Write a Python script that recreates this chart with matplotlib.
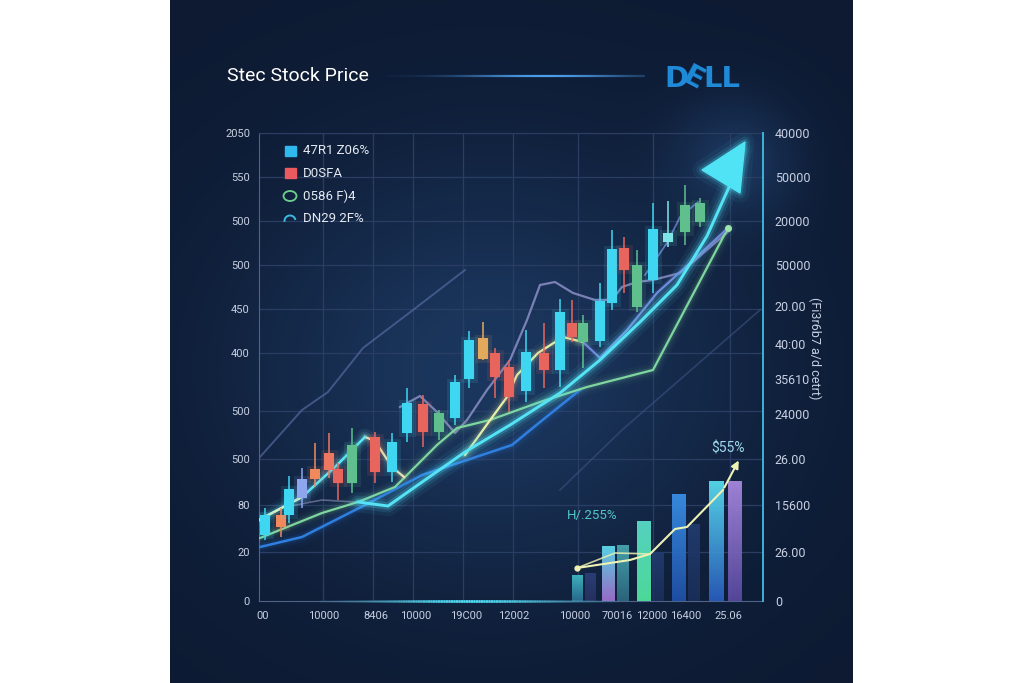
import numpy as np
import matplotlib.pyplot as plt
from matplotlib.patches import Rectangle, Ellipse, Arc, Polygon
from matplotlib.collections import LineCollection
from matplotlib.colors import LinearSegmentedColormap
import matplotlib.patheffects as pe

plt.rcParams['font.family'] = ['Roboto', 'DejaVu Sans']

# chart units: x = distance right of the left spine, y = height above the baseline
left_ticks = [0, 49, 96, 142, 190, 248, 292, 336, 380, 424, 468]
left_labels = ['0', '20', '80', '500', '500', '400', '450', '500', '500', '550', '2050']
right_ticks = [0, 49, 96, 142, 187, 222, 257, 295, 336, 380, 424, 468]
right_labels = ['0', '26.00', '15600', '26.00', '24000', '35610', '40:00', '20.00',
                '50000', '20000', '50000', '40000']
bottom_ticks = [4, 65, 117, 157, 207, 255, 316, 358, 393, 427, 469]
bottom_labels = ['00', '10000', '8406', '10000', '19C00', '12002', '10000', '70016',
                 '12000', '16400', '25.06']
vgrid = [64, 114, 154, 204, 254, 319, 394, 471]

# candles
c_x = [6, 22, 30, 43, 56, 70, 79, 93, 116, 133, 148, 164, 180, 196, 210, 224, 236, 250,
       267, 285, 301, 313, 324, 341, 353, 365, 378, 394, 409, 426, 441]
c_lo = [66, 74, 86, 103, 122, 131, 118, 118, 129, 129, 168, 169, 169, 183, 222, 242, 224,
        204, 210, 231, 231, 264, 259, 260, 298, 331, 294, 321, 359, 369, 379]
c_hi = [86, 86, 112, 122, 132, 148, 132, 156, 164, 159, 198, 197, 188, 219, 261, 263, 248,
        234, 249, 248, 289, 278, 278, 300, 352, 353, 336, 372, 368, 396, 398]
w_lo = [61, 64, 78, 93, 114, 123, 101, 108, 118, 119, 159, 154, 161, 176, 213, 241, 203,
        189, 199, 213, 214, 259, 233, 254, 291, 308, 289, 308, 354, 356, 374]
w_hi = [93, 93, 125, 133, 158, 168, 138, 173, 169, 168, 213, 206, 191, 226, 270, 279, 253,
        241, 271, 278, 302, 301, 286, 318, 371, 364, 351, 398, 400, 416, 403]
c_col = ['cyan', 'orange', 'cyan', 'lav', 'orange', 'coral', 'red', 'green', 'red', 'cyan',
         'cyan', 'red', 'green', 'cyan', 'cyan', 'gold', 'red', 'red', 'cyan', 'red', 'cyan',
         'red', 'green', 'cyan', 'cyan', 'red', 'green', 'cyan', 'pale', 'green', 'green']
palette = {'cyan': '#3fd6f2', 'orange': '#f08a5d', 'lav': '#8ea6ee', 'coral': '#ee7762',
           'red': '#e8655e', 'green': '#5fc08e', 'gold': '#e2a95c', 'pale': '#7fe6e8'}

# lines
main_x = [99, 129, 156, 206, 251, 301, 341, 381, 418, 448, 471, 483]
main_y = [99, 95, 114, 149, 176, 208, 241, 279, 316, 365, 416, 451]
arrow_xy = [[443, 431], [486, 459], [481, 408]]
lead_x = [0, 43, 76, 106]
lead_y = [81, 104, 134, 164]
yel1_x = [106, 116, 133, 145]
yel1_y = [164, 160, 134, 124]
yel2_x = [206, 229, 248, 258, 279, 304, 324]
yel2_y = [146, 178, 204, 226, 248, 264, 259]
bmid_x = [324, 341, 368, 398, 431, 469]
bmid_y = [259, 243, 271, 308, 338, 373]
grn_x = [1, 63, 99, 136, 178, 198, 231, 281, 328, 394, 469]
grn_y = [63, 88, 99, 114, 156, 173, 181, 199, 214, 231, 373]
blow_x = [1, 43, 106, 163, 253, 286, 321]
blow_y = [54, 64, 96, 126, 156, 183, 211]
lavu_x = [1, 43, 69, 104, 154, 206]
lavu_y = [144, 191, 209, 253, 291, 331]
lavm_x = [141, 161, 178, 196, 208, 228, 251, 268, 281, 296, 314, 336, 353, 363, 378, 394, 421, 471]
lavm_y = [194, 205, 189, 168, 181, 211, 241, 281, 316, 319, 308, 301, 301, 314, 319, 321, 328, 371]
lavt_x = [386, 408, 421, 439]
lavt_y = [326, 358, 384, 399]
gray_x = [26, 63, 96]
gray_y = [94, 101, 99]
faint_x = [301, 363, 501]
faint_y = [111, 171, 291]

# volume bars
b_x = [318.5, 331.5, 349.5, 364, 385, 399, 420, 435, 457.5, 476]
b_h = [26, 28, 55, 56, 80, 49, 107, 77, 120, 120]
b_w = [11, 11, 13, 12, 14, 12, 14, 12, 15, 14]
b_top = ['#41bcc6', '#2e3f7c', '#5fdff0', '#4aaab2', '#5ce2cc', '#223d70', '#3a92ea',
         '#223d70', '#5ae0f2', '#aa8ae2']
b_bot = ['#2a6f94', '#263262', '#a472d2', '#2e6a82', '#52eaa2', '#1b2f5a', '#2052aa',
         '#1b2f5a', '#2a5ec0', '#5a4aa2']
bl_x = [318, 371, 391, 416, 428, 464]
bl_y = [33, 41, 47, 72, 74, 111]
bl2_x = [318, 356, 391]
bl2_y = [33, 48, 47]

legend_txt = ['47R1 Z06%', 'D0SFA', '0586 F)4', 'DN29 2F%']

W, H = 1024, 683
fig = plt.figure(figsize=(W / 100, H / 100), dpi=100, facecolor='white')

# background panel
bg = fig.add_axes([0, 0, 1, 1], zorder=0)
bg.set_xlim(0, W)
bg.set_ylim(H, 0)
bg.axis('off')
yy, xx = np.mgrid[0:H, 170:853]
base = np.array([13, 26, 50]) / 255
glowc = np.array([30, 60, 102]) / 255
g1 = np.exp(-(((xx - 490) / 250) ** 2 + ((yy - 370) / 210) ** 2))
g2 = np.exp(-(((xx - 735) / 60) ** 2 + ((yy - 160) / 60) ** 2))
img = base + (glowc - base) * np.clip(0.85 * g1 + 0.7 * g2, 0, 1)[..., None]
bg.imshow(img, extent=(170, 853, H, 0), aspect='auto', interpolation='bilinear')

# title and rule
bg.text(227, 76, 'Stec Stock Price', color='white', fontsize=14, va='center', ha='left')
xs = np.linspace(385, 645, 140)
segs = [[(xs[i], 76), (xs[i + 1], 76)] for i in range(len(xs) - 1)]
t = np.linspace(0, 1, len(segs))
alph = np.exp(-((t - 0.62) / 0.33) ** 2)
bg.add_collection(LineCollection(segs, colors=[(0.3, 0.62, 0.92, a) for a in alph], linewidths=1.6))

# logo
dell = '#1f8ad8'
logo_font = dict(color=dell, fontsize=21, fontweight='bold', family=['DejaVu Sans'], va='center')
bg.text(664, 79, 'D', ha='left', **logo_font)
bg.text(693, 79, 'E', ha='center', rotation=-28, **logo_font)
bg.text(703, 79, 'LL', ha='left', **logo_font)

# main axes
ax = fig.add_axes([259 / W, (H - 601) / H, 504 / W, 468 / H], zorder=1)
ax.set_facecolor('none')

for yv in left_ticks[1:]:
    ax.axhline(yv, color='#2a3e64', lw=0.9, zorder=0)
for xv in vgrid:
    ax.axvline(xv, color='#2a3e64', lw=0.9, zorder=0)


def glow_line(x, y, color, lw=1.6, strength=1.0, z=3, alpha=1.0):
    for k, a in [(7, 0.04), (4.5, 0.07), (2.6, 0.14)]:
        ax.plot(x, y, color=color, lw=lw * k, alpha=a * strength, solid_capstyle='round',
                solid_joinstyle='round', zorder=z)
    ax.plot(x, y, color=color, lw=lw, alpha=alpha, solid_joinstyle='round', zorder=z + 0.1)


# faint background lines
ax.plot(lavu_x, lavu_y, color='#56699f', lw=1.4, alpha=0.7, zorder=1)
ax.plot(faint_x, faint_y, color='#3a5584', lw=1.2, alpha=0.6, zorder=1)
ax.plot(gray_x, gray_y, color='#7d7fa8', lw=1.2, alpha=0.7, zorder=1)
ax.plot(lavt_x, lavt_y, color='#6a86d8', lw=1.3, alpha=0.8, zorder=1)
ax.plot(lavm_x, lavm_y, color='#8c8fc6', lw=1.6, alpha=0.85, zorder=2)

# candles
for x, lo, hi, wl, wh, c in zip(c_x, c_lo, c_hi, w_lo, w_hi, c_col):
    col = palette[c]
    ax.vlines(x, wl, wh, color=col, lw=1.1, zorder=4)
    ax.bar(x, hi - lo, bottom=lo, width=9.5, color=col, zorder=4,
           path_effects=[pe.withStroke(linewidth=5, foreground=col, alpha=0.12)])

# trend lines
glow_line(blow_x, blow_y, '#2f7fe0', lw=1.8, strength=0.8)
glow_line(grn_x, grn_y, '#7fd6a0', lw=1.6, strength=0.8)
ax.plot(grn_x[-1], grn_y[-1], 'o', color='#9be6a8', ms=4, zorder=5)
glow_line(bmid_x, bmid_y, '#6f88dc', lw=1.6, strength=0.7)
glow_line(yel2_x, yel2_y, '#e8f0a8', lw=1.6, strength=0.9)
glow_line(yel1_x, yel1_y, '#f0e2b0', lw=1.6, strength=0.9)
glow_line(lead_x, lead_y, '#5ce8f6', lw=1.8, strength=1.3)
ax.plot(lead_x[:2], lead_y[:2], color='#f2f0b8', lw=1.8, alpha=0.8, zorder=3.2)
glow_line(main_x, main_y, '#55e4f6', lw=2.1, strength=1.6, z=6)
arrow_c = '#4fe3f5'
for lwk, a in [(14, 0.05), (8, 0.1), (4, 0.2)]:
    ax.add_patch(Polygon(arrow_xy, closed=True, facecolor='none', edgecolor=arrow_c,
                         lw=lwk, alpha=a, joinstyle='round', zorder=6))
ax.add_patch(Polygon(arrow_xy, closed=True, facecolor=arrow_c, edgecolor=arrow_c, lw=1,
                     zorder=6.2))

# volume bars with vertical gradients
grad = np.linspace(0, 1, 64).reshape(-1, 1)
for x, h, w, ct, cb in zip(b_x, b_h, b_w, b_top, b_bot):
    cm = LinearSegmentedColormap.from_list('b', [cb, ct])
    ax.imshow(grad, extent=(x - w / 2, x + w / 2, 0, h), origin='lower', cmap=cm,
              aspect='auto', zorder=4, interpolation='bilinear', alpha=0.92)
ax.plot(bl2_x, bl2_y, color='#e8eeb0', lw=1.2, alpha=0.85, zorder=5)
ax.plot(bl_x, bl_y, color='#eef2b4', lw=1.5, zorder=5)
ax.annotate('', xy=(481, 143), xytext=(bl_x[-1], bl_y[-1]),
            arrowprops=dict(arrowstyle='-|>', color='#eef2b4', lw=1.5, mutation_scale=11),
            zorder=5)
ax.plot(bl_x[0], bl_y[0], 'o', color='#eef2b4', ms=3.5, zorder=5)
ax.text(469, 153, '$55%', color='#9fd9ea', fontsize=10, ha='center', va='center')
ax.text(333, 86, 'H/.255%', color='#55c6c8', fontsize=9.5, ha='center', va='center')

# legend
ax.add_patch(Rectangle((26, 445), 11, 10, color='#2fb8ee', zorder=7))
ax.add_patch(Rectangle((26, 423), 11, 10, color='#ea5a5e', zorder=7))
ax.add_patch(Ellipse((31, 405), 13, 10, fill=False, edgecolor='#6ed08c', lw=1.3, zorder=7))
ax.add_patch(Arc((31, 380), 11, 11, theta1=10, theta2=190, color='#3cb8e0', lw=1.4, zorder=7))
for i, s in enumerate(legend_txt):
    ax.text(44, 450 - i * 22.5, s, color='#e4e8f0', fontsize=9.5, va='center', ha='left', zorder=7)

ax.set_xlim(0, 504)
ax.set_ylim(0, 468)
ax.set_yticks(left_ticks, left_labels)
ax.set_xticks(bottom_ticks, bottom_labels)
ax.tick_params(axis='y', length=0, pad=6.5, labelcolor='#c8d0e2', labelsize=8)
ax.tick_params(axis='x', length=0, pad=7, labelcolor='#c8d0e2', labelsize=8)
ax.spines['left'].set_color('#4f6388')
ax.spines['bottom'].set_color('#4f6388')
ax.spines['top'].set_color('#2a3e64')
ax.spines['right'].set_visible(False)

# cyan glow on the baseline
xs = np.linspace(60, 360, 120)
segs = [[(xs[i], 0), (xs[i + 1], 0)] for i in range(len(xs) - 1)]
t = np.linspace(0, 1, len(segs))
alph = np.exp(-((t - 0.5) / 0.3) ** 2)
ax.add_collection(LineCollection(segs, colors=[(0.3, 0.85, 0.95, a) for a in alph],
                                 linewidths=2, zorder=8, clip_on=False))

ax2 = ax.twinx()
ax2.set_ylim(0, 468)
ax2.set_yticks(right_ticks, right_labels)
ax2.tick_params(axis='y', length=0, pad=8.5, labelcolor='#c8d0e2', labelsize=9)
for s in ['left', 'top', 'bottom']:
    ax2.spines[s].set_visible(False)
ax2.spines['right'].set_color('#3fb2d8')
ax2.spines['right'].set_linewidth(1.4)
ax2.set_ylabel('(Fi3r6b7 a/d cetrt)', rotation=270, color='#c8d0e2', fontsize=9, va='center')
ax2.yaxis.set_label_coords((815 - 259) / 504, 0.54)

fig.savefig('out.png', dpi=100, facecolor='white')
